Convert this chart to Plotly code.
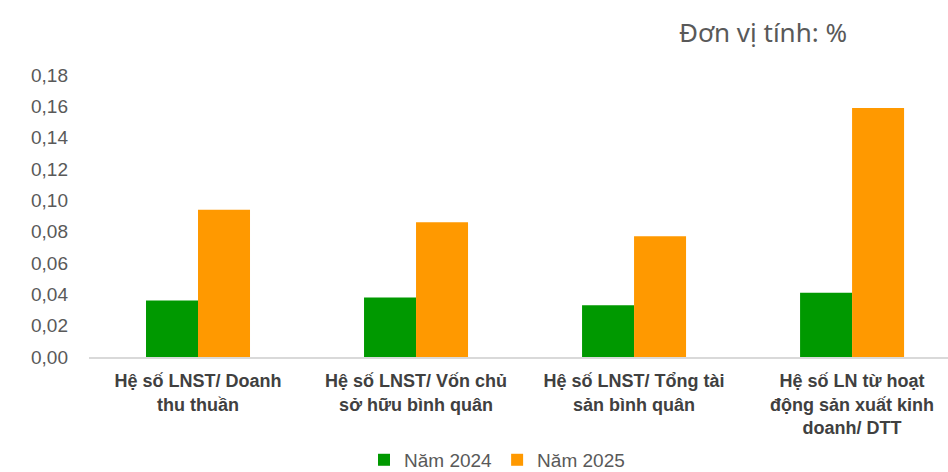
import plotly.graph_objects as go

categories = [
    "Hệ số LNST/ Doanh<br>thu thuần",
    "Hệ số LNST/ Vốn chủ<br>sở hữu bình quân",
    "Hệ số LNST/ Tổng tài<br>sản bình quân",
    "Hệ số LN từ hoạt<br>động sản xuất kinh<br>doanh/ DTT",
]
series_names = ["Năm 2024", "Năm 2025"]
values_2024 = [0.036, 0.038, 0.033, 0.041]
values_2025 = [0.094, 0.086, 0.077, 0.159]
tick_vals = [0, 0.02, 0.04, 0.06, 0.08, 0.10, 0.12, 0.14, 0.16, 0.18]
unit_text = "Đơn vị tính: %"

colors = ["#009900", "#FF9900"]
x_idx = list(range(len(categories)))

fig = go.Figure()
for name, vals, col in zip(series_names, [values_2024, values_2025], colors):
    fig.add_trace(go.Bar(
        x=x_idx, y=vals, name=name,
        marker=dict(color=col, line=dict(width=0)),
    ))

fig.update_layout(
    width=948, height=472,
    margin=dict(l=89, r=0, t=75, b=115, autoexpand=False),
    paper_bgcolor="white", plot_bgcolor="white",
    barmode="group", bargap=0.523, bargroupgap=0,
    separators=",.",
    font=dict(family="Liberation Sans, Arial", color="#595959"),
    showlegend=True,
    legend=dict(
        orientation="h", x=0.475, xanchor="center", y=-0.365, yanchor="middle",
        xref="paper", yref="paper",
        font=dict(size=19, color="#595959", family="Liberation Sans, Arial"),
        itemwidth=30, traceorder="normal", bgcolor="rgba(0,0,0,0)",
    ),
    annotations=[dict(
        text=unit_text, x=0.785, y=1.152, xref="paper", yref="paper",
        xanchor="center", yanchor="middle", showarrow=False,
        font=dict(size=26, color="#595959", family="Noto Sans, Open Sans"),
    )],
)

fig.update_xaxes(
    tickmode="array", tickvals=x_idx, ticktext=categories,
    range=[-0.5, 3.44], showgrid=False, zeroline=False,
    showline=True, linecolor="#d9d9d9", linewidth=1.5,
    ticks="", ticklabelstandoff=7,
    tickfont=dict(size=18, color="#404040", family="Liberation Sans, Arial", weight="bold"),
)
fig.update_yaxes(
    range=[0, 0.18], tickmode="array", tickvals=tick_vals, tickformat=".2f",
    showgrid=False, zeroline=False, showline=False, ticks="",
    ticklabelstandoff=20,
    tickfont=dict(size=19, color="#595959", family="Liberation Sans, Arial"),
)

fig.write_html("out.html")
